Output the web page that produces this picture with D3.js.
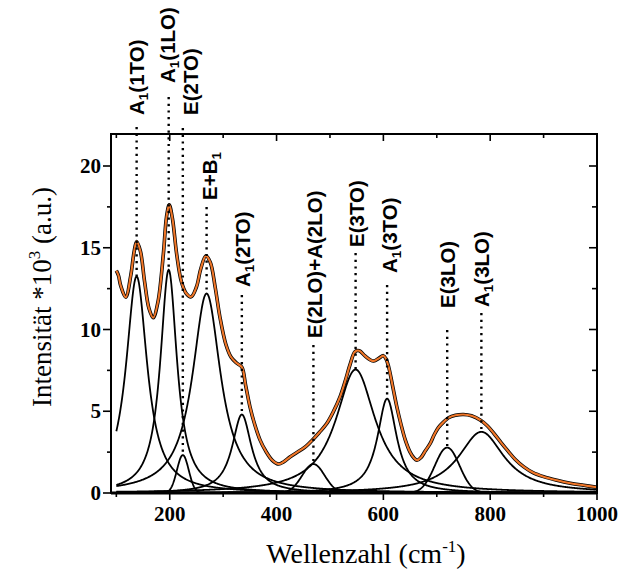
<!DOCTYPE html>
<html><head><meta charset="utf-8">
<script src="https://cdn.jsdelivr.net/npm/d3@7"></script>
<style>body{margin:0;background:#fff}</style>
</head><body><svg id="c" width="624" height="571"></svg>
<script>
// measured spectrum (wavenumber, intensity*10^3)
const specX = [100,104,108,117.6,127,133,138,145,153,161,169,178,188,194,199,205,213,222,231,240,250,258,267.5,276,285,294,305,315,325,335,342,350,359,369,380,392,404,413,425,444,455,466,480,494,506,519,529,538,547,555,565,575,582,592,600,605,610,617,625,633,641,650,657,663,670,678,688,695,703,713,722,735,750,765,782,795,807,820,832,847,863,880,900,925,950,975,1000];
const specY = [13.6,13.3,12.7,11.97,13.3,14.7,15.38,14.8,12.9,11.3,10.72,11.7,14.6,16.9,17.62,16.8,14.6,12.9,12.2,12.0,12.6,13.7,14.5,14.1,12.6,10.75,9.1,8.3,7.95,7.7,6.6,5.3,4.2,3.25,2.55,2.0,1.77,1.9,2.2,2.6,2.85,3.2,3.7,4.25,4.95,5.9,6.9,7.9,8.65,8.7,8.4,8.15,8.07,8.25,8.4,8.2,7.7,6.6,5.3,4.2,3.25,2.5,2.15,2.0,2.15,2.55,3.05,3.55,4.0,4.35,4.6,4.75,4.8,4.72,4.45,4.1,3.64,3.1,2.62,2.05,1.6,1.25,1.0,0.78,0.6,0.47,0.35];

// fitted components
const peakNames   = ["A_1(1TO)","A_1(1LO)","E(2TO)","E+B_1","A_1(2TO)","E(2LO)+A(2LO)","E(3TO)","A_1(3TO)","E(3LO)","A_1(3LO)"];
const peakCenters = [138, 198, 224.5, 269, 335, 469, 548, 607, 719.5, 783.5];
const peakHeights = [13.25, 13.65, 2.32, 12.2, 4.8, 1.77, 7.55, 5.77, 2.78, 3.74];
const peakWidths  = [24, 19, 11, 32, 22, 21, 45, 22, 23, 52];
const peakShapes  = ["L","L","G","L","L","G","L","L","G","L"];

// axis ticks
const xTickValues = [100,200,300,400,500,600,700,800,900,1000];
const xTickLabels = ["","200","","400","","600","","800","","1000"];
const yTickValues = [0,2.5,5,7.5,10,12.5,15,17.5,20];
const yTickLabels = ["0","","5","","10","","15","","20"];

// label layout (pixels): horizontal offset, text bottom, dotted line top
const labelDx     = [0,-1,8,3,1,1,1,2,0,0];
const labelBottom = [115,83,115,200,287,338,247,273,308,307];
const lineTop     = [127,97,128,207,295,345,253,285,330,313];

const svg = d3.select("#c");
const L=111, R=597, T=134, B=493;
const x = d3.scaleLinear().domain([90,1000]).range([L,R]);
const y = d3.scaleLinear().domain([0,22]).range([B,133.3]);

function shape(i, v){
  const c=peakCenters[i], h=peakHeights[i], w=peakWidths[i];
  if(peakShapes[i]==="G") return h*Math.exp(-(v-c)*(v-c)/(2*w*w));
  return h/(1+((v-c)/w)*((v-c)/w));
}
const grid = d3.range(100,1000.01,1);

const line = d3.line().x(d=>x(d[0])).y(d=>y(d[1]));
const gPlot = svg.append("g");
// components
peakCenters.forEach((c,i)=>{
  gPlot.append("path").datum(grid.map(v=>[v,shape(i,v)]))
    .attr("d",line).attr("fill","none").attr("stroke","#000").attr("stroke-width",1.8);
});
// spectrum: fit (black) under data (orange)
const spec = specX.map((v,i)=>[v,specY[i]]);
const sline = d3.line().x(d=>x(d[0])).y(d=>y(d[1])).curve(d3.curveCatmullRom.alpha(0.5));
gPlot.append("path").datum(spec).attr("d",sline).attr("fill","none").attr("stroke","#000").attr("stroke-width",3.6);
gPlot.append("path").datum(spec).attr("d",sline).attr("fill","none").attr("stroke","#f07628").attr("stroke-width",2.1);

// dotted lines and labels
peakCenters.forEach((c,i)=>{
  const px = x(c);
  svg.append("line").attr("x1",px).attr("x2",px).attr("y1",lineTop[i]).attr("y2",y(peakHeights[i]))
    .attr("stroke","#000").attr("stroke-width",2.4).attr("stroke-dasharray","2.2,4.5");
  const t = svg.append("text").attr("transform",`translate(${px+labelDx[i]+7.5},${labelBottom[i]}) rotate(-90)`)
    .attr("font-family","Liberation Sans, Arial, sans-serif").attr("font-weight","bold").attr("font-size",20.5);
  const parts = peakNames[i].split("_");
  t.append("tspan").text(parts[0]);
  for(let k=1;k<parts.length;k++){
    t.append("tspan").attr("font-size",13.5).attr("dy",4).text(parts[k][0]);
    t.append("tspan").attr("dy",-4).text(parts[k].slice(1));
  }
});

// frame
svg.append("rect").attr("x",L).attr("y",T).attr("width",R-L).attr("height",B-T)
  .attr("fill","none").attr("stroke","#000").attr("stroke-width",2);
svg.append("line").attr("x1",L).attr("x2",R).attr("y1",B).attr("y2",B).attr("stroke","#000").attr("stroke-width",3);

// ticks
xTickValues.forEach((v,i)=>{
  const major = xTickLabels[i]!=="";
  svg.append("line").attr("x1",x(v)).attr("x2",x(v)).attr("y1",B).attr("y2",B+(major?7:4)).attr("stroke","#000").attr("stroke-width",1.6);
  svg.append("line").attr("x1",x(v)).attr("x2",x(v)).attr("y1",T).attr("y2",T+(major?7:4)).attr("stroke","#000").attr("stroke-width",1.6);
  if(major) svg.append("text").attr("x",x(v)).attr("y",521).attr("text-anchor","middle")
    .attr("font-family","Liberation Serif, Times New Roman, serif").attr("font-weight","bold").attr("font-size",21).text(xTickLabels[i]);
});
yTickValues.forEach((v,i)=>{
  const major = yTickLabels[i]!=="";
  svg.append("line").attr("x1",L).attr("x2",L-(major?8:4)).attr("y1",y(v)).attr("y2",y(v)).attr("stroke","#000").attr("stroke-width",1.6);
  svg.append("line").attr("x1",R).attr("x2",R-(major?8:5)).attr("y1",y(v)).attr("y2",y(v)).attr("stroke","#000").attr("stroke-width",1.6);
  if(major) svg.append("text").attr("x",101).attr("y",y(v)+7).attr("text-anchor","end")
    .attr("font-family","Liberation Serif, Times New Roman, serif").attr("font-weight","bold").attr("font-size",21).text(yTickLabels[i]);
});

// axis titles
const xt = svg.append("text").attr("x",366).attr("y",563).attr("text-anchor","middle")
  .attr("font-family","Liberation Serif, Times New Roman, serif").attr("font-size",28);
xt.append("tspan").text("Wellenzahl (cm");
xt.append("tspan").attr("font-size",17).attr("dy",-11).text("-1");
xt.append("tspan").attr("dy",11).text(")");
const yt = svg.append("text").attr("transform","translate(51,297) rotate(-90)").attr("text-anchor","middle")
  .attr("font-family","Liberation Serif, Times New Roman, serif").attr("font-size",27);
yt.append("tspan").text("Intensität *10");
yt.append("tspan").attr("font-size",17).attr("dy",-11).text("3");
yt.append("tspan").attr("dy",11).text(" (a.u.)");
</script></body></html>
